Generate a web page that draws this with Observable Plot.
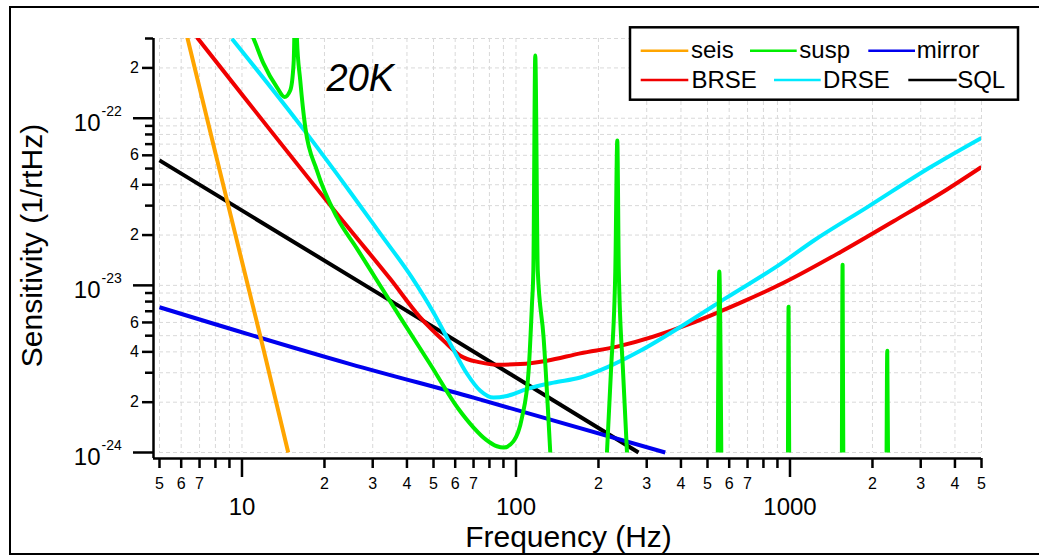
<!DOCTYPE html>
<html><head><meta charset="utf-8">
<script src="https://cdn.jsdelivr.net/npm/d3@7"></script>
<script src="https://cdn.jsdelivr.net/npm/@observablehq/plot@0.6"></script>
<style>
html,body{margin:0;padding:0;background:#fff;overflow:hidden;}
#wrap{position:relative;width:1039px;height:556px;overflow:hidden;}
#border{position:absolute;left:9px;top:5.5px;width:1100px;height:545.5px;border:2.5px solid #000;border-right:none;box-sizing:content-box;pointer-events:none;}
#chart svg{display:block;}
</style></head><body><div id="wrap"><div id="chart"></div><div id="border"></div></div>
<script>
// ---- data ----
const xDomain = [5, 5000];
const yDomain = [1e-24, 3e-22];

const seisF = [6.0, 8, 10, 12, 14.75];
const seisV = [4.3e-22, 6.2e-23, 1.39e-23, 4.1e-24, 1.0e-24];

const mirrorF = [5.0, 24.85, 70.0, 350.6];
const mirrorV = [7.4e-24, 3.38e-24, 2.13e-24, 1.0e-24];

const sqlF = [5.0, 32, 280];
const sqlV = [5.6e-23, 8.8e-24, 1.0e-24];

const brseF = [6.85, 24.8, 34.8, 44.7, 56.0, 62.6, 74.1, 85.2, 103.7, 129.8, 171.7, 234, 433, 556, 677, 948, 1526, 2388, 3741, 5000];
const brseV = [3.05e-22, 2.15e-23, 1.09e-23, 6.43e-24, 4.46e-24, 3.79e-24, 3.46e-24, 3.35e-24, 3.38e-24, 3.54e-24, 3.92e-24, 4.30e-24, 5.90e-24, 6.98e-24, 8.02e-24, 1.036e-23, 1.58e-23, 2.42e-23, 3.75e-23, 5.11e-23];

const drseF = [9.19, 17.27, 24.85, 31.97, 41.73, 50.03, 57.57, 66.25, 74.1, 82.8, 92.7, 109.7, 137.2, 171.7, 214.8, 284.2, 432.6, 589, 921.8, 1219, 1910, 3251, 5000];
const drseV = [2.99e-22, 8.06e-23, 3.61e-23, 2.04e-23, 1.112e-23, 6.86e-24, 4.48e-24, 2.96e-24, 2.34e-24, 2.13e-24, 2.18e-24, 2.40e-24, 2.62e-24, 2.81e-24, 3.23e-24, 4.06e-24, 6.14e-24, 8.47e-24, 1.34e-23, 1.85e-23, 2.93e-23, 5.09e-23, 7.63e-23];

// null marks a break in the susp curve
const suspF = [10.5, 11.03, 11.99, 13.42, 14.31, 15.01, 15.43, 15.52, 15.6, 15.8, 15.87, 16.32, 17.02, 18.78, 22.22, 26.28, 31.10, 37.8, 48.7, 61.7, 70.0, 77.9, 85.2, 90.1, 98.0, 105.2, 111.2, 114.4, 115.7, 117.6, 120.1, 126.1, 133.4,
  null, 214.8, 222.2, 230.4, 234.3, 237.3, 245.8, 254.2,
  null, 545.2, 552.1, 561.5,
  null, 983.4, 988.3, 993.3,
  null, 1547, 1556, 1565,
  null, 2252, 2265, 2279];
const suspV = [3.6e-22, 2.99e-22, 2.12e-22, 1.53e-22, 1.34e-22, 1.47e-22, 2.12e-22, 3.0e-22, 6e-22, 6e-22, 2.99e-22, 1.68e-22, 8.83e-23, 4.86e-23, 2.55e-23, 1.66e-23, 1.07e-23, 6.44e-24, 3.36e-24, 1.82e-24, 1.41e-24, 1.19e-24, 1.09e-24, 1.07e-24, 1.17e-24, 1.62e-24, 3.08e-24, 7.77e-24, 1.22e-23, 2.37e-22, 1.22e-23, 4.89e-24, 1.0e-24,
  null, 1.0e-24, 3.08e-24, 1.22e-23, 7.35e-23, 1.22e-23, 3.08e-24, 1.0e-24,
  null, 1.0e-24, 1.21e-23, 1.0e-24,
  null, 1.0e-24, 7.46e-24, 1.0e-24,
  null, 1.0e-24, 1.33e-23, 1.0e-24,
  null, 1.0e-24, 4.06e-24, 1.0e-24];

const seriesNames = ["seis", "susp", "mirror", "BRSE", "DRSE", "SQL"];
const seriesColors = ["#ffa500", "#00ee00", "#0000ee", "#f00000", "#00eaff", "#000000"];

// ticks
const xMajor = [10, 100, 1000];
const xMinorLabeled = [5, 6, 7, 20, 30, 40, 50, 60, 70, 200, 300, 400, 500, 600, 700, 2000, 3000, 4000, 5000];
const xMinorPlain = [8, 9, 80, 90, 800, 900];
const yMajor = [1e-24, 1e-23, 1e-22];
const yMinorLabeled = [2e-24, 4e-24, 6e-24, 2e-23, 4e-23, 6e-23, 2e-22];
const yMinorPlain = [3e-24, 5e-24, 7e-24, 8e-24, 9e-24, 3e-23, 5e-23, 7e-23, 8e-23, 9e-23, 3e-22];

const xTitle = "Frequency (Hz)";
const yTitle = "Sensitivity (1/rtHz)";
const tempLabel = "20K";

// ---- build ----
function rows(name, F, V) {
  const out = []; let seg = 0;
  F.forEach((f, i) => {
    if (f == null || V[i] == null) { seg++; return; }
    out.push({series: name, seg: name + seg, f, v: V[i]});
  });
  return out;
}
const seriesData = {
  seis: rows("seis", seisF, seisV),
  susp: rows("susp", suspF, suspV),
  mirror: rows("mirror", mirrorF, mirrorV),
  BRSE: rows("BRSE", brseF, brseV),
  DRSE: rows("DRSE", drseF, drseV),
  SQL: rows("SQL", sqlF, sqlV)
};
const colorOf = n => seriesColors[seriesNames.indexOf(n)];
const drawOrder = ["SQL", "mirror", "seis", "BRSE", "DRSE", "susp"];

const lead = d => String(Math.round(d / Math.pow(10, Math.floor(Math.log10(d) + 1e-9))));
const blank = () => "";
const xAll = [...xMajor, ...xMinorLabeled, ...xMinorPlain];
const yAll = [...yMajor, ...yMinorLabeled, ...yMinorPlain];
const FONT = "'Liberation Sans', Arial, Helvetica, sans-serif";
const AX = 2.5;

const chart = Plot.plot({
  width: 1039, height: 556,
  marginLeft: 153, marginRight: 58, marginTop: 38, marginBottom: 98,
  style: {fontFamily: FONT, color: "#000", background: "transparent", overflow: "visible"},
  x: {type: "log", domain: xDomain, insetLeft: 6, label: null},
  y: {type: "log", domain: yDomain, insetBottom: 6, label: null},
  marks: [
    Plot.gridX({ticks: xAll, stroke: "#d9d9d9", strokeOpacity: 1, strokeDasharray: "4,3", insetBottom: 6}),
    Plot.gridY({ticks: yAll, stroke: "#d9d9d9", strokeOpacity: 1, strokeDasharray: "4,3", insetLeft: 6}),
    ...drawOrder.map(n => Plot.line(seriesData[n], {
      x: "f", y: "v", z: "seg", stroke: colorOf(n), strokeWidth: 4,
      strokeLinecap: "butt", curve: "monotone-x", clip: true
    })),
    // axis lines
    Plot.ruleX([xDomain[0]], {dx: -6, strokeWidth: AX}),
    Plot.ruleY([yDomain[0]], {dy: 6, strokeWidth: AX}),
    // x axis ticks
    Plot.axisX({ticks: [...xMinorLabeled, ...xMinorPlain], tickSize: 10, tickFormat: blank, strokeWidth: AX, label: null}),
    Plot.axisX({ticks: xMajor, tickSize: 19, tickFormat: blank, strokeWidth: AX, label: null}),
    // x axis labels
    Plot.text(xMinorLabeled, {x: d => d, frameAnchor: "bottom", text: lead, lineAnchor: "top", textAnchor: "middle", dy: 19, fontSize: 16}),
    Plot.text(xMajor, {x: d => d, frameAnchor: "bottom", text: d => String(d), lineAnchor: "top", textAnchor: "middle", dy: 39, fontSize: 24}),
    // y axis ticks
    Plot.axisY({ticks: yMajor, tickSize: 20, tickFormat: blank, strokeWidth: AX, label: null}),
    Plot.axisY({ticks: yMinorLabeled, tickSize: 11, tickFormat: blank, strokeWidth: AX, label: null}),
    Plot.axisY({ticks: yMinorPlain, tickSize: 8, tickFormat: blank, strokeWidth: AX, label: null}),
    // y axis labels
    Plot.text(yMinorLabeled, {y: d => d, frameAnchor: "left", text: lead, textAnchor: "end", lineAnchor: "middle", dx: -14.5, fontSize: 16}),
    Plot.text(yMajor, {y: d => d, frameAnchor: "left", text: () => "10", textAnchor: "end", lineAnchor: "middle", dx: -53, dy: 5, fontSize: 24}),
    Plot.text(yMajor, {y: d => d, frameAnchor: "left", text: d => String(Math.round(Math.log10(d))), textAnchor: "start", lineAnchor: "middle", dx: -52, dy: -7, fontSize: 14}),
    // titles
    Plot.text([yTitle], {frameAnchor: "left", text: d => d, rotate: -90, lineAnchor: "middle", textAnchor: "middle", dx: -121.5, dy: -3, fontSize: 30}),
    Plot.text([xTitle], {frameAnchor: "bottom", text: d => d, lineAnchor: "middle", textAnchor: "middle", dx: 1, dy: 79, fontSize: 30}),
    Plot.text([tempLabel], {frameAnchor: "top-left", text: d => d, lineAnchor: "middle", textAnchor: "start", dx: 173, dy: 40, fontSize: 38, fontStyle: "italic"})
  ]
});
document.getElementById("chart").appendChild(chart);

// ---- legend (layout) ----
const legLineX1 = [640.7, 750, 868.3, 640.7, 774, 908.3];
const legLineX2 = [688.3, 796.7, 915, 688.3, 820.7, 956.7];
const legTextX = [691, 799.3, 916.8, 691.5, 823.1, 957.2];
const legRowY = [50.7, 50.7, 50.7, 80, 80, 80];
const legBase = [58.3, 58.3, 58.3, 88.3, 88.3, 88.3];
const svg = d3.select(chart);
const g = svg.append("g").attr("text-anchor", "start");
g.append("rect").attr("x", 630).attr("y", 27.3).attr("width", 388).attr("height", 72.4)
  .attr("fill", "#fff").attr("stroke", "#000").attr("stroke-width", 2.5);
seriesNames.forEach((n, i) => {
  g.append("line").attr("x1", legLineX1[i]).attr("x2", legLineX2[i])
    .attr("y1", legRowY[i]).attr("y2", legRowY[i])
    .attr("stroke", seriesColors[i]).attr("stroke-width", 2.5);
  g.append("text").attr("x", legTextX[i]).attr("y", legBase[i])
    .attr("text-anchor", "start")
    .attr("font-family", FONT).attr("font-size", 24).attr("fill", "#000").text(n);
});
</script></body></html>
